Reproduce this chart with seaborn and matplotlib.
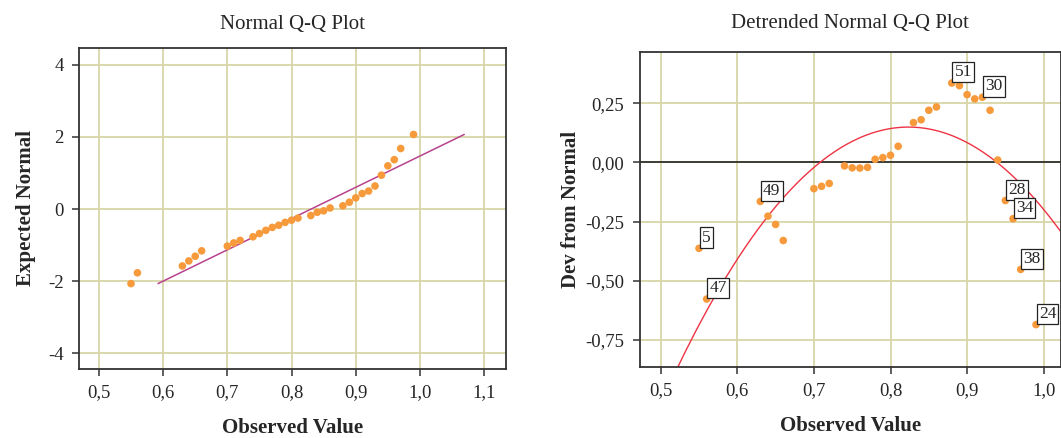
import matplotlib
matplotlib.use("Agg")
import matplotlib.pyplot as plt
import numpy as np
import pandas as pd
import seaborn as sns

observed = [0.55, 0.56, 0.63, 0.64, 0.65, 0.66, 0.70, 0.71, 0.72, 0.74, 0.75,
            0.76, 0.77, 0.78, 0.79, 0.80, 0.81, 0.83, 0.84, 0.85, 0.86, 0.88,
            0.89, 0.90, 0.91, 0.92, 0.93, 0.94, 0.95, 0.96, 0.97, 0.99]
expected = [-2.07, -1.77, -1.58, -1.44, -1.31, -1.16, -1.03, -0.94, -0.87,
            -0.77, -0.68, -0.59, -0.51, -0.45, -0.37, -0.31, -0.25, -0.18,
            -0.09, -0.05, 0.03, 0.09, 0.19, 0.31, 0.43, 0.50, 0.64, 0.94,
            1.20, 1.37, 1.68, 2.07]
deviation = [-0.363, -0.577, -0.165, -0.227, -0.262, -0.330, -0.111, -0.101,
             -0.089, -0.015, -0.023, -0.024, -0.021, 0.013, 0.020, 0.030,
             0.068, 0.168, 0.180, 0.220, 0.234, 0.335, 0.324, 0.286, 0.268,
             0.275, 0.220, 0.010, -0.161, -0.238, -0.452, -0.685]
case_labels = ["5", "47", "49", "", "", "", "", "", "", "", "", "", "", "",
               "", "", "", "", "", "", "", "51", "", "", "", "30", "", "",
               "28", "34", "38", "24"]
sample_mean = 0.8305
sample_sd = 0.1152

fit_peak_x = 0.8235
fit_peak_y = 0.149
fit_curv = 11.17

left_xticks = [0.5, 0.6, 0.7, 0.8, 0.9, 1.0, 1.1]
left_yticks = [-4, -2, 0, 2, 4]
right_xticks = [0.5, 0.6, 0.7, 0.8, 0.9, 1.0]
right_yticks = [-0.75, -0.50, -0.25, 0.0, 0.25]

df = pd.DataFrame({"observed": observed, "expected": expected,
                   "deviation": deviation, "case": case_labels})
z = np.array([min(expected), max(expected)])
ref = pd.DataFrame({"x": sample_mean + sample_sd * z, "y": z})

sns.set_style("white")
plt.rcParams["font.family"] = ["Liberation Serif", "DejaVu Serif"]

grid_col = "#d8d5a8"
dot_col = "#f79a3c"
spine_col = "#333333"

fig = plt.figure(figsize=(10.61, 4.38), dpi=100)
ax1 = fig.add_axes([79 / 1061, 1 - 369 / 438, 427 / 1061, 321 / 438])
ax2 = fig.add_axes([639.5 / 1061, 1 - 367 / 438, 421.5 / 1061, 315 / 438])


def fmt(v, dec):
    return f"{v:.{dec}f}".replace(".", ",")


def style(ax, xt, yt, ydec):
    ax.set_xticks(xt)
    ax.set_xticklabels([fmt(v, 1) for v in xt], fontsize=13.5)
    ax.set_yticks(yt)
    ax.set_yticklabels([fmt(v, ydec) for v in yt], fontsize=13.5)
    ax.grid(True, color=grid_col, lw=1.3)
    ax.set_axisbelow(True)
    ax.tick_params(axis="both", direction="out", length=5, width=1.1,
                   color=spine_col, bottom=True, left=True, pad=6)
    for s in ax.spines.values():
        s.set_color(spine_col)
        s.set_linewidth(1.3)
        s.set_visible(True)
    ax.set_xlabel("Observed Value", fontsize=15, fontweight="bold", labelpad=12)


# Normal Q-Q plot
sns.lineplot(data=ref, x="x", y="y", ax=ax1, color="#b8428e", lw=1.1)
sns.scatterplot(data=df, x="observed", y="expected", ax=ax1, color=dot_col,
                s=30, edgecolor="none", zorder=3)
ax1.set_xlim(0.469, 1.134)
ax1.set_ylim(-4.44, 4.47)
style(ax1, left_xticks, left_yticks, 0)
ax1.set_ylabel("Expected Normal", fontsize=15, fontweight="bold", labelpad=9)
ax1.set_title("Normal Q-Q Plot", fontsize=15, pad=14)

# Detrended normal Q-Q plot
xmin, xmax = 0.4723, 1.0226
ax2.axhline(0, color="#222222", lw=1.2, zorder=1)
grid_x = np.linspace(xmin, xmax, 200)
fit = pd.DataFrame({"x": grid_x,
                    "y": fit_peak_y - fit_curv * (grid_x - fit_peak_x) ** 2})
sns.lineplot(data=fit, x="x", y="y", ax=ax2, color="#ee3344", lw=1, zorder=2)
sns.scatterplot(data=df, x="observed", y="deviation", ax=ax2, color=dot_col,
                s=30, edgecolor="none", zorder=3)
for _, r in df[df["case"] != ""].iterrows():
    ax2.annotate(r["case"], (r["observed"], r["deviation"]),
                 xytext=(2, 2), textcoords="offset points", ha="left",
                 va="bottom", fontsize=12.5, zorder=4,
                 bbox=dict(boxstyle="square,pad=0.12", fc="white",
                           ec="#222222", lw=0.9))
ax2.set_xlim(xmin, xmax)
ax2.set_ylim(-0.864, 0.466)
style(ax2, right_xticks, right_yticks, 2)
ax2.set_ylabel("Dev from Normal", fontsize=15, fontweight="bold", labelpad=3)
ax2.set_title("Detrended Normal Q-Q Plot", fontsize=15, pad=17)

fig.savefig("out.png", dpi=100)
